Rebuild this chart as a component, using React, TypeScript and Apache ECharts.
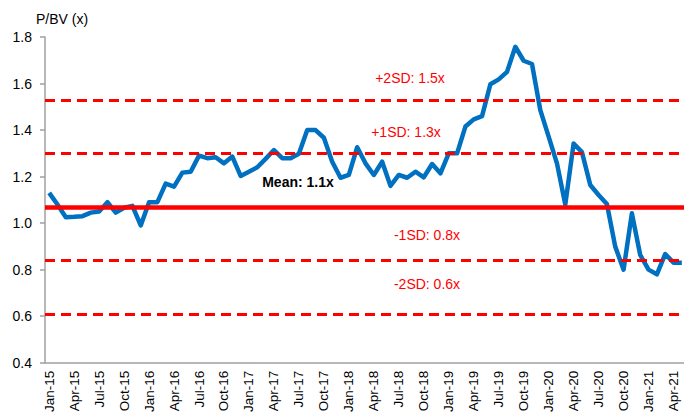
import React, { useEffect, useRef } from 'react';
import * as echarts from 'echarts';

const categories = [
  'Jan-15','Feb-15','Mar-15','Apr-15','May-15','Jun-15','Jul-15','Aug-15','Sep-15','Oct-15','Nov-15','Dec-15',
  'Jan-16','Feb-16','Mar-16','Apr-16','May-16','Jun-16','Jul-16','Aug-16','Sep-16','Oct-16','Nov-16','Dec-16',
  'Jan-17','Feb-17','Mar-17','Apr-17','May-17','Jun-17','Jul-17','Aug-17','Sep-17','Oct-17','Nov-17','Dec-17',
  'Jan-18','Feb-18','Mar-18','Apr-18','May-18','Jun-18','Jul-18','Aug-18','Sep-18','Oct-18','Nov-18','Dec-18',
  'Jan-19','Feb-19','Mar-19','Apr-19','May-19','Jun-19','Jul-19','Aug-19','Sep-19','Oct-19','Nov-19','Dec-19',
  'Jan-20','Feb-20','Mar-20','Apr-20','May-20','Jun-20','Jul-20','Aug-20','Sep-20','Oct-20','Nov-20','Dec-20',
  'Jan-21','Feb-21','Mar-21','Apr-21','May-21',
];

const pbv = [
  1.13, 1.08, 1.025, 1.027, 1.03, 1.045, 1.05, 1.09, 1.045, 1.066, 1.074, 0.99,
  1.09, 1.09, 1.17, 1.157, 1.217, 1.221, 1.29, 1.279, 1.283, 1.257, 1.286, 1.203,
  1.221, 1.24, 1.276, 1.314, 1.279, 1.279, 1.298, 1.4, 1.4, 1.367, 1.264, 1.195,
  1.207, 1.326, 1.257, 1.207, 1.264, 1.16, 1.207, 1.195, 1.221, 1.197, 1.254, 1.214,
  1.3, 1.3, 1.415, 1.446, 1.46, 1.597, 1.618, 1.65, 1.758, 1.698, 1.684, 1.486,
  1.372, 1.257, 1.08, 1.342, 1.305, 1.164, 1.121, 1.082, 0.899, 0.8, 1.042, 0.863,
  0.8, 0.78, 0.867, 0.83, 0.83,
];

const meanLevel = 1.07;
const sdLevels = [1.53, 1.303, 0.841, 0.61];

const yTicks = { min: 0.4, max: 1.8, interval: 0.2 };

const bandTexts = ['+2SD: 1.5x', '+1SD: 1.3x', '-1SD: 0.8x', '-2SD: 0.6x'];
const meanText = 'Mean: 1.1x';
const axisTitle = 'P/BV (x)';

const FONT = 'Arial, "Liberation Sans", sans-serif';

export default function App() {
  const ref = useRef<HTMLDivElement>(null);
  useEffect(() => {
    const chart = echarts.init(ref.current!, null, { renderer: 'svg' });
    const bandPos = [
      { x: 410, y: 78 },
      { x: 406, y: 132 },
      { x: 427, y: 235 },
      { x: 427, y: 284 },
    ];
    chart.setOption({
      animation: false,
      grid: {
        left: 45,
        top: 37,
        width: 641,
        bottom: 49.3,
        containLabel: false,
        outerBoundsMode: 'none',
      },
      xAxis: {
        type: 'category',
        data: categories,
        boundaryGap: true,
        axisLine: { lineStyle: { color: '#A0A0A0', width: 1.5 } },
        axisTick: { interval: 2, length: 4, lineStyle: { color: '#A0A0A0', width: 1.5 } },
        axisLabel: {
          interval: 2,
          rotate: 90,
          margin: 8,
          color: '#000',
          fontSize: 13.5,
          fontFamily: FONT,
        },
        splitLine: { show: false },
      },
      yAxis: {
        type: 'value',
        min: yTicks.min,
        max: yTicks.max,
        interval: yTicks.interval,
        axisLine: { show: true, lineStyle: { color: '#A0A0A0', width: 1.5 } },
        axisTick: { show: true, length: 5, lineStyle: { color: '#A0A0A0', width: 1.5 } },
        axisLabel: {
          margin: 13,
          color: '#000',
          fontSize: 14,
          fontFamily: FONT,
          formatter: (v: number) => v.toFixed(1),
        },
        splitLine: { show: false },
      },
      series: [
        {
          type: 'line',
          data: pbv,
          symbol: 'none',
          lineStyle: { color: '#0070C0', width: 4.5, join: 'round' },
          z: 2,
        },
        {
          type: 'line',
          data: [],
          z: 3,
          markLine: {
            silent: true,
            symbol: ['none', 'none'],
            label: { show: false },
            emphasis: { disabled: true },
            data: [
              { yAxis: meanLevel, lineStyle: { color: '#FF0000', width: 4.5, type: 'solid' } },
              ...sdLevels.map((v) => ({
                yAxis: v,
                lineStyle: { color: '#FF0000', width: 3, type: [10, 6] },
              })),
            ],
          },
        },
      ],
      graphic: [
        {
          type: 'text',
          left: 36,
          top: 12,
          style: { text: axisTitle, fill: '#000', font: `14px ${FONT}` },
        },
        {
          type: 'text',
          x: 298,
          y: 182,
          style: {
            text: meanText,
            fill: '#000',
            font: `bold 14px ${FONT}`,
            textAlign: 'center',
            textVerticalAlign: 'middle',
          },
        },
        ...bandTexts.map((t, i) => ({
          type: 'text',
          x: bandPos[i].x,
          y: bandPos[i].y,
          style: {
            text: t,
            fill: '#FF0000',
            font: `14px ${FONT}`,
            textAlign: 'center',
            textVerticalAlign: 'middle',
          },
        })),
      ],
    });
    return () => chart.dispose();
  }, []);
  return (
    <div
      ref={ref}
      style={{ position: 'fixed', left: 0, top: 0, width: 684, height: 412, background: '#fff' }}
    />
  );
}
